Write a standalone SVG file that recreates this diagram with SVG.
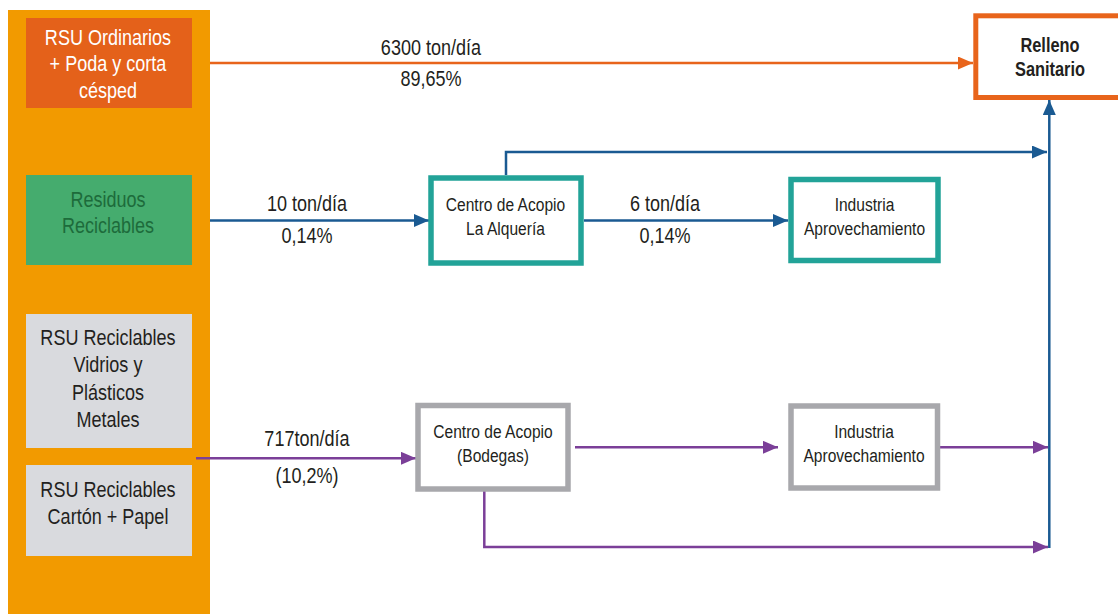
<svg xmlns="http://www.w3.org/2000/svg" width="1118" height="614" viewBox="0 0 1118 614">
<style>
  text { font-family: "Liberation Sans", Arial, sans-serif; text-anchor: middle; fill: #231F20; }
  .src { font-size: 22px; }
  .white { fill: #FFFFFF; }
  .green { fill: #1D6B3B; }
  .lbl { font-size: 22px; }
  .node { font-size: 19px; }
  .bold { font-size: 20px; font-weight: bold; }
  .teal { fill: #FFFFFF; stroke: #22A398; stroke-width: 5.5; }
  .grey { fill: #FFFFFF; stroke: #A8A8AC; stroke-width: 5.5; }
  .conn { fill: none; stroke-width: 2.5; }
  .o { stroke: #E8641B; }
  .b { stroke: #1A5A92; }
  .p { stroke: #7B3F98; }
</style>
<defs>
  <marker id="ao" markerUnits="userSpaceOnUse" markerWidth="16" markerHeight="14" refX="15" refY="6.5" orient="auto">
    <path d="M0,0 L15,6.5 L0,13 z" fill="#E8641B"/>
  </marker>
  <marker id="ab" markerUnits="userSpaceOnUse" markerWidth="16" markerHeight="14" refX="15" refY="6.5" orient="auto">
    <path d="M0,0 L15,6.5 L0,13 z" fill="#1A5A92"/>
  </marker>
  <marker id="ap" markerUnits="userSpaceOnUse" markerWidth="16" markerHeight="14" refX="15" refY="6.5" orient="auto">
    <path d="M0,0 L15,6.5 L0,13 z" fill="#7B3F98"/>
  </marker>
</defs>
<rect width="1118" height="614" fill="#FFFFFF"/>

<g id="column">
  <rect x="8" y="10" width="202" height="610" fill="#F29A00"/>
</g>

<g id="connectors">
  <line class="conn o" x1="210" y1="63" x2="973" y2="63" marker-end="url(#ao)"/>
  <line class="conn b" x1="210" y1="220.5" x2="429" y2="220.5" marker-end="url(#ab)"/>
  <line class="conn b" x1="584" y1="220.5" x2="788" y2="220.5" marker-end="url(#ab)"/>
  <polyline class="conn b" points="506,175 506,152 1047,152" marker-end="url(#ab)"/>
  <line class="conn b" x1="1049.3" y1="548" x2="1049.3" y2="100" marker-end="url(#ab)"/>
  <line class="conn p" x1="196" y1="458.3" x2="416" y2="458.3" marker-end="url(#ap)"/>
  <line class="conn p" x1="575" y1="447.3" x2="778" y2="447.3" marker-end="url(#ap)"/>
  <line class="conn p" x1="940" y1="447.3" x2="1048" y2="447.3" marker-end="url(#ap)"/>
  <polyline class="conn p" points="484.3,491 484.3,547 1048,547" marker-end="url(#ap)"/>
</g>

<g id="labels">
  <text class="lbl" transform="scale(0.82 1)" x="525.61" y="55">6300 ton/día</text>
  <text class="lbl" transform="scale(0.82 1)" x="525.61" y="86.5">89,65%</text>
  <text class="lbl" transform="scale(0.82 1)" x="374.39" y="211.5">10 ton/día</text>
  <text class="lbl" transform="scale(0.82 1)" x="374.39" y="243">0,14%</text>
  <text class="lbl" transform="scale(0.82 1)" x="810.98" y="211.5">6 ton/día</text>
  <text class="lbl" transform="scale(0.82 1)" x="810.98" y="243">0,14%</text>
  <text class="lbl" transform="scale(0.82 1)" x="374.39" y="446.5">717ton/día</text>
  <text class="lbl" transform="scale(0.82 1)" x="374.39" y="483">(10,2%)</text>
</g>

<g id="src-ordinarios">
  <rect x="26" y="18" width="166" height="90" fill="#E4611A"/>
  <text class="src white" transform="scale(0.82 1)" x="131.71" y="45">RSU Ordinarios</text>
  <text class="src white" transform="scale(0.82 1)" x="131.71" y="71.5">+ Poda y corta</text>
  <text class="src white" transform="scale(0.82 1)" x="131.71" y="98">césped</text>
</g>

<g id="src-reciclables">
  <rect x="26" y="175" width="166" height="90" fill="#45AC6E"/>
  <text class="src green" transform="scale(0.82 1)" x="131.71" y="207">Residuos</text>
  <text class="src green" transform="scale(0.82 1)" x="131.71" y="233">Reciclables</text>
</g>

<g id="src-vidrios">
  <rect x="26" y="314" width="166" height="134" fill="#D9DADE"/>
  <text class="src" transform="scale(0.82 1)" x="131.71" y="345">RSU Reciclables</text>
  <text class="src" transform="scale(0.82 1)" x="131.71" y="372.5">Vidrios y</text>
  <text class="src" transform="scale(0.82 1)" x="131.71" y="400">Plásticos</text>
  <text class="src" transform="scale(0.82 1)" x="131.71" y="427.5">Metales</text>
</g>

<g id="src-carton">
  <rect x="26" y="465" width="166" height="91" fill="#D9DADE"/>
  <text class="src" transform="scale(0.82 1)" x="131.71" y="497">RSU Reciclables</text>
  <text class="src" transform="scale(0.82 1)" x="131.71" y="524">Cartón + Papel</text>
</g>

<g id="relleno">
  <rect x="975.8" y="15.8" width="160" height="81.7" fill="#FFFFFF" stroke="#E8641B" stroke-width="5"/>
  <text class="bold" transform="scale(0.82 1)" x="1280.49" y="52.5">Relleno</text>
  <text class="bold" transform="scale(0.82 1)" x="1280.49" y="76">Sanitario</text>
</g>

<g id="acopio-alqueria">
  <rect class="teal" x="431" y="178" width="150" height="85"/>
  <text class="node" transform="scale(0.82 1)" x="616.46" y="211.5">Centro de Acopio</text>
  <text class="node" transform="scale(0.82 1)" x="616.46" y="235">La Alquería</text>
</g>

<g id="industria-1">
  <rect class="teal" x="791" y="179.5" width="147" height="81"/>
  <text class="node" transform="scale(0.82 1)" x="1054.27" y="211.5">Industria</text>
  <text class="node" transform="scale(0.82 1)" x="1054.27" y="235">Aprovechamiento</text>
</g>

<g id="acopio-bodegas">
  <rect class="grey" x="418" y="405.5" width="150" height="83.5"/>
  <text class="node" transform="scale(0.82 1)" x="601.22" y="438.3">Centro de Acopio</text>
  <text class="node" transform="scale(0.82 1)" x="601.22" y="461.7">(Bodegas)</text>
</g>

<g id="industria-2">
  <rect class="grey" x="791" y="406" width="146.5" height="82"/>
  <text class="node" transform="scale(0.82 1)" x="1053.66" y="438.3">Industria</text>
  <text class="node" transform="scale(0.82 1)" x="1053.66" y="461.7">Aprovechamiento</text>
</g>
</svg>
